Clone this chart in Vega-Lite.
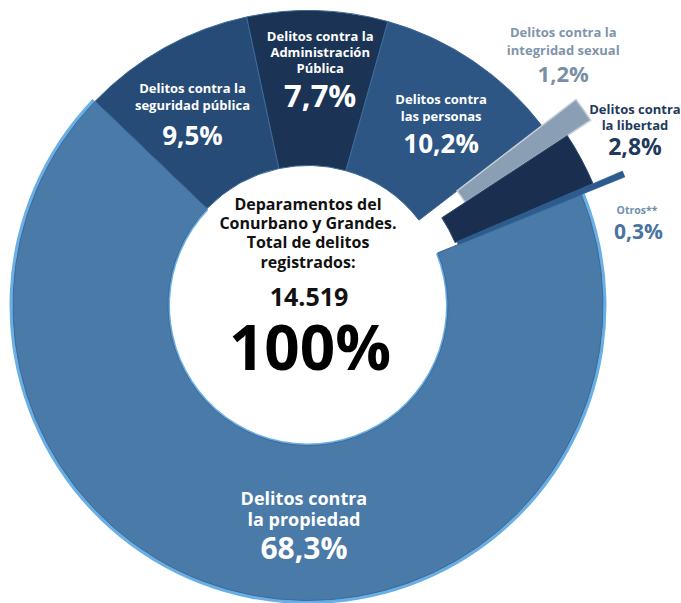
{
  "$schema": "https://vega.github.io/schema/vega-lite/v6.json",
  "width": 616,
  "height": 595,
  "autosize": "none",
  "padding": {"left": 0, "top": 8, "right": 65, "bottom": 0},
  "background": "white",
  "config": {"view": {"stroke": null}, "font": "Open Sans", "text": {"font": "Open Sans", "fontWeight": "bold"}},
  "datasets": {
    "slices": [
      {"key": "seg", "lines": ["Delitos contra la", "seguridad pública"], "pct": 9.5, "label": "9,5%", "order": 1},
      {"key": "adm", "lines": ["Delitos contra la", "Administración", "Pública"], "pct": 7.7, "label": "7,7%", "order": 2},
      {"key": "per", "lines": ["Delitos contra", "las personas"], "pct": 10.2, "label": "10,2%", "order": 3},
      {"key": "int", "lines": ["Delitos contra la", "integridad sexual"], "pct": 1.2, "label": "1,2%", "order": 4},
      {"key": "lib", "lines": ["Delitos contra", "la libertad"], "pct": 2.8, "label": "2,8%", "order": 5},
      {"key": "otr", "lines": ["Otros**"], "pct": 0.3, "label": "0,3%", "order": 6},
      {"key": "prop", "lines": ["Delitos contra", "la propiedad"], "pct": 68.3, "label": "68,3%", "order": 7}
    ],
    "center": [
      {"title": ["Deparamentos del", "Conurbano y Grandes.", "Total de delitos", "registrados:"], "total": "14.519", "share": "100%"}
    ]
  },
  "layer": [
    {
      "data": {"name": "slices"},
      "transform": [
        {"stack": "pct", "groupby": [], "sort": [{"field": "order", "order": "ascending"}], "as": ["v0", "v1"]},
        {"calculate": "(datum.v0 + datum.v1) / 2", "as": "mid"}
      ],
      "layer": [
        {
          "transform": [{"filter": "datum.key == 'prop'"}],
          "mark": {"type": "arc", "fill": "#6aaee6"},
          "encoding": {
            "theta": {"field": "v0", "type": "quantitative", "stack": null, "scale": {"domain": [0, 100], "range": [-0.80634, 5.47685]}},
            "theta2": {"field": "v1"},
            "radius": {"value": 298.5},
            "radius2": {"value": 138}
          }
        },
        {
          "transform": [{"filter": "indexof(['seg','adm','per','prop'], datum.key) >= 0"}],
          "mark": {"type": "arc", "stroke": "#3d6a98", "strokeWidth": 1},
          "encoding": {
            "theta": {"field": "v0", "type": "quantitative", "stack": null, "scale": {"domain": [0, 100], "range": [-0.80634, 5.47685]}},
            "theta2": {"field": "v1"},
            "radius": {"value": 295},
            "radius2": {"value": 140},
            "color": {"field": "key", "type": "nominal", "legend": null,
              "scale": {"domain": ["seg", "adm", "per", "int", "lib", "otr", "prop"],
                        "range": ["#264b76", "#1b3455", "#2d5684", "#8b9fb4", "#1a2f4f", "#2c5b8f", "#4a7aa7"]}}
          }
        },
        {
          "transform": [{"filter": "datum.key == 'int'"}],
          "mark": {"type": "arc", "stroke": "#c3ced9", "strokeWidth": 1.5},
          "encoding": {
            "theta": {"field": "v0", "type": "quantitative", "stack": null, "scale": {"domain": [0, 100], "range": [-0.80634, 5.47685]}},
            "theta2": {"field": "v1"},
            "radius": {"value": 338},
            "radius2": {"value": 188},
            "color": {"field": "key", "type": "nominal", "legend": null}
          }
        },
        {
          "transform": [{"filter": "datum.key == 'lib'"}],
          "mark": {"type": "arc", "stroke": "#2d4b72", "strokeWidth": 1},
          "encoding": {
            "theta": {"field": "v0", "type": "quantitative", "stack": null, "scale": {"domain": [0, 100], "range": [-0.80634, 5.47685]}},
            "theta2": {"field": "v1"},
            "radius": {"value": 310},
            "radius2": {"value": 160},
            "color": {"field": "key", "type": "nominal", "legend": null}
          }
        },
        {
          "transform": [{"filter": "datum.key == 'otr'"}],
          "mark": {"type": "arc", "stroke": "#2c5b8f", "strokeWidth": 0.5},
          "encoding": {
            "theta": {"field": "v0", "type": "quantitative", "stack": null, "scale": {"domain": [0, 100], "range": [-0.80634, 5.47685]}},
            "theta2": {"field": "v1"},
            "radius": {"value": 342},
            "radius2": {"value": 162},
            "color": {"field": "key", "type": "nominal", "legend": null}
          }
        },
        {
          "transform": [{"filter": "datum.key == 'seg'"}],
          "encoding": {
            "theta": {"field": "mid", "type": "quantitative", "stack": null, "scale": {"domain": [0, 100], "range": [-0.80634, 5.47685]}},
            "radius": {"value": 237.5}
          },
          "layer": [
            {"mark": {"type": "text", "fill": "white", "fontSize": 13, "lineHeight": 17, "dy": -8.5, "baseline": "middle", "align": "center"}, "encoding": {"text": {"field": "lines"}}},
            {"mark": {"type": "text", "fill": "white", "fontSize": 26, "dy": 39, "baseline": "middle", "align": "center"}, "encoding": {"text": {"field": "label"}}}
          ]
        },
        {
          "transform": [{"filter": "datum.key == 'adm'"}],
          "encoding": {
            "theta": {"field": "mid", "type": "quantitative", "stack": null, "scale": {"domain": [0, 100], "range": [-0.80634, 5.47685]}},
            "radius": {"value": 252}
          },
          "layer": [
            {"mark": {"type": "text", "fill": "white", "fontSize": 13, "lineHeight": 16, "dx": 4, "dy": -16.3, "baseline": "middle", "align": "center"}, "encoding": {"text": {"field": "lines"}}},
            {"mark": {"type": "text", "fill": "white", "fontSize": 31, "dx": 4, "dy": 44.5, "baseline": "middle", "align": "center"}, "encoding": {"text": {"field": "label"}}}
          ]
        },
        {
          "transform": [{"filter": "datum.key == 'per'"}],
          "encoding": {
            "theta": {"field": "mid", "type": "quantitative", "stack": null, "scale": {"domain": [0, 100], "range": [-0.80634, 5.47685]}},
            "radius": {"value": 237.5}
          },
          "layer": [
            {"mark": {"type": "text", "fill": "white", "fontSize": 13, "lineHeight": 17, "dy": -8.5, "baseline": "middle", "align": "center"}, "encoding": {"text": {"field": "lines"}}},
            {"mark": {"type": "text", "fill": "white", "fontSize": 26, "dy": 36.5, "baseline": "middle", "align": "center"}, "encoding": {"text": {"field": "label"}}}
          ]
        },
        {
          "transform": [{"filter": "datum.key == 'prop'"}],
          "encoding": {
            "theta": {"field": "mid", "type": "quantitative", "stack": null, "scale": {"domain": [0, 100], "range": [-0.80634, 5.47685]}},
            "radius": {"value": 210}
          },
          "layer": [
            {"mark": {"type": "text", "fill": "white", "fontSize": 18, "lineHeight": 21, "dx": 35.5, "dy": -12.2, "baseline": "middle", "align": "center"}, "encoding": {"text": {"field": "lines"}}},
            {"mark": {"type": "text", "fill": "white", "fontSize": 30, "dx": 35.5, "dy": 38, "baseline": "middle", "align": "center"}, "encoding": {"text": {"field": "label"}}}
          ]
        },
        {
          "transform": [{"filter": "datum.key == 'int'"}],
          "encoding": {
            "theta": {"field": "mid", "type": "quantitative", "stack": null, "scale": {"domain": [0, 100], "range": [-0.80634, 5.47685]}},
            "radius": {"value": 345}
          },
          "layer": [
            {"mark": {"type": "text", "fill": "#8095ab", "fontSize": 13, "lineHeight": 18, "dx": -26, "dy": -72.4, "baseline": "middle", "align": "center"}, "encoding": {"text": {"field": "lines"}}},
            {"mark": {"type": "text", "fill": "#7a8fa6", "fontSize": 22, "dx": -26, "dy": -30.4, "baseline": "middle", "align": "center"}, "encoding": {"text": {"field": "label"}}}
          ]
        },
        {
          "transform": [{"filter": "datum.key == 'lib'"}],
          "encoding": {
            "theta": {"field": "mid", "type": "quantitative", "stack": null, "scale": {"domain": [0, 100], "range": [-0.80634, 5.47685]}},
            "radius": {"value": 371}
          },
          "layer": [
            {"mark": {"type": "text", "fill": "#1f3a5c", "fontSize": 13, "lineHeight": 16, "dy": -20.5, "baseline": "middle", "align": "center"}, "encoding": {"text": {"field": "lines"}}},
            {"mark": {"type": "text", "fill": "#1f3a5c", "fontSize": 23, "dy": 18, "baseline": "middle", "align": "center"}, "encoding": {"text": {"field": "label"}}}
          ]
        },
        {
          "transform": [{"filter": "datum.key == 'otr'"}],
          "encoding": {
            "theta": {"field": "mid", "type": "quantitative", "stack": null, "scale": {"domain": [0, 100], "range": [-0.80634, 5.47685]}},
            "radius": {"value": 358}
          },
          "layer": [
            {"mark": {"type": "text", "fill": "#6f8fb0", "fontSize": 10.5, "dx": -1.5, "dy": 43.2, "baseline": "middle", "align": "center"}, "encoding": {"text": {"field": "lines"}}},
            {"mark": {"type": "text", "fill": "#4a74a0", "fontSize": 21, "dy": 65.2, "baseline": "middle", "align": "center"}, "encoding": {"text": {"field": "label"}}}
          ]
        }
      ]
    },
    {
      "data": {"name": "center"},
      "layer": [
        {"mark": {"type": "text", "fill": "#111111", "fontSize": 16, "lineHeight": 19.3, "dy": -100.7, "baseline": "middle", "align": "center"}, "encoding": {"text": {"field": "title"}}},
        {"mark": {"type": "text", "fill": "#111111", "fontSize": 25, "dx": 1, "dy": -7.5, "baseline": "middle", "align": "center"}, "encoding": {"text": {"field": "total"}}},
        {"mark": {"type": "text", "fill": "#000000", "fontSize": 62, "dx": 2, "dy": 45.5, "baseline": "middle", "align": "center"}, "encoding": {"text": {"field": "share"}}}
      ]
    }
  ]
}
